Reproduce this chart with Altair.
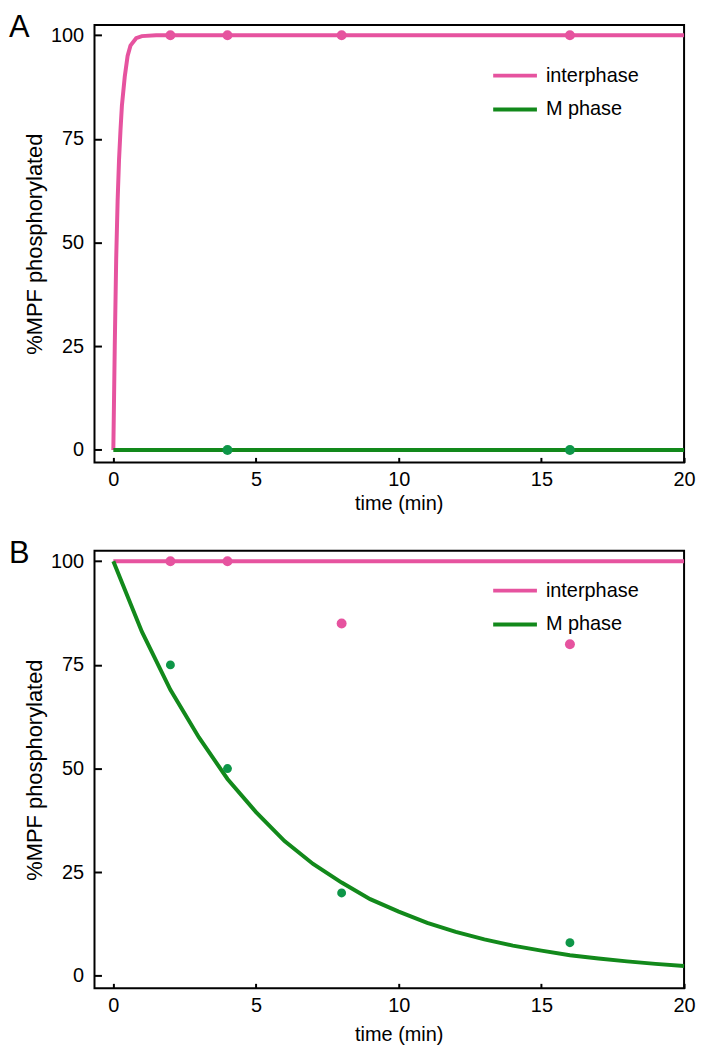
import altair as alt
import pandas as pd

PINK = "#E6539F"
GREEN_LINE = "#12891B"
GREEN_PT = "#0E9648"
FONT = "Liberation Sans"

# ---------------- Panel A data ----------------
a_int_t = [0, 0.05, 0.1, 0.15, 0.2, 0.25, 0.3, 0.4, 0.5, 0.6, 0.8, 1.0, 1.5, 20]
a_int_y = [0, 25, 46, 60, 70, 77, 83, 90, 95, 97.5, 99.3, 99.8, 100, 100]
a_m_t = [0, 20]
a_m_y = [0, 0]
a_pt_int_t = [2, 4, 8, 16]
a_pt_int_y = [100, 100, 100, 100]
a_pt_m_t = [4, 16]
a_pt_m_y = [0, 0]

# ---------------- Panel B data ----------------
b_int_t = [0, 20]
b_int_y = [100, 100]
b_m_t = [0, 1, 2, 3, 4, 5, 6, 7, 8, 9, 10, 11, 12, 13, 14, 15, 16, 17, 18, 19, 20]
b_m_y = [100, 83, 69, 57.5, 47.5, 39.5, 32.5, 27, 22.5, 18.5, 15.5, 12.8, 10.6,
         8.8, 7.3, 6.1, 5.0, 4.2, 3.5, 2.9, 2.4]
b_pt_int_t = [2, 4, 8, 16]
b_pt_int_y = [100, 100, 85, 80]
b_pt_m_t = [2, 4, 8, 16]
b_pt_m_y = [75, 50, 20, 8]

x_ticks = [0, 5, 10, 15, 20]
y_ticks = [0, 25, 50, 75, 100]
phases = ["interphase", "M phase"]


def make_df(it, iy, mt, my):
    return pd.DataFrame({
        "t": list(it) + list(mt),
        "y": list(iy) + list(my),
        "phase": [phases[0]] * len(it) + [phases[1]] * len(mt),
    })


def pts_layer(t, y, color, size, xscale, yscale):
    df = pd.DataFrame({"t": t, "y": y})
    return alt.Chart(df).mark_circle(opacity=1, size=size, color=color).encode(
        x=alt.X("t:Q", scale=xscale),
        y=alt.Y("y:Q", scale=yscale),
    )


def panel(ldf, pint, pm, label, legend_y, row_pad, label_y, green_pt_size,
          xtitle_pad):
    xscale = alt.Scale(domain=[-0.66, 20], nice=False, zero=False)
    yscale = alt.Scale(domain=[-3, 102.5], nice=False, zero=False)
    xaxis = alt.Axis(values=x_ticks, tickSize=5, tickWidth=2, tickColor="black",
                     offset=-5, domain=False, grid=False, labelFlush=False,
                     labelOverlap=False, labelFont=FONT, labelFontSize=20,
                     labelColor="black", labelPadding=7, title="time (min)",
                     titleFont=FONT, titleFontSize=20, titleFontWeight="normal",
                     titleColor="black", titleX=306, titlePadding=xtitle_pad)
    yaxis = alt.Axis(values=y_ticks, tickSize=7, tickWidth=2, tickColor="black",
                     offset=-7, domain=False, grid=False, labelFlush=False,
                     labelOverlap=False, labelFont=FONT, labelFontSize=20,
                     labelColor="black", labelPadding=11,
                     title="%MPF phosphorylated", titleFont=FONT,
                     titleFontSize=22, titleFontWeight="normal",
                     titleColor="black", titlePadding=4)
    line = alt.Chart(ldf).mark_line(strokeWidth=4).encode(
        x=alt.X("t:Q", scale=xscale, axis=xaxis),
        y=alt.Y("y:Q", scale=yscale, axis=yaxis),
        color=alt.Color("phase:N",
                        scale=alt.Scale(domain=phases, range=[PINK, GREEN_LINE]),
                        legend=alt.Legend(title=None, orient="none",
                                          legendX=399, legendY=legend_y,
                                          symbolType="stroke",
                                          symbolSize=1936, symbolStrokeWidth=4,
                                          labelFont=FONT, labelFontSize=20,
                                          labelColor="black", labelOffset=7,
                                          rowPadding=row_pad, padding=0)),
    )
    p1 = pts_layer(pint[0], pint[1], PINK, 100, xscale, yscale)
    p2 = pts_layer(pm[0], pm[1], GREEN_PT, green_pt_size, xscale, yscale)
    txt = alt.Chart(pd.DataFrame({"panel": [label]})).mark_text(
        font=FONT, fontSize=31, align="left", baseline="alphabetic", color="black"
    ).encode(text="panel:N", x=alt.value(-86), y=alt.value(label_y))
    return alt.layer(line, p1, p2, txt).properties(width=593, height=440)


chart_a = panel(make_df(a_int_t, a_int_y, a_m_t, a_m_y),
                (a_pt_int_t, a_pt_int_y), (a_pt_m_t, a_pt_m_y),
                "A", 27, -4, 12, 100, 4)
chart_b = panel(make_df(b_int_t, b_int_y, b_m_t, b_m_y),
                (b_pt_int_t, b_pt_int_y), (b_pt_m_t, b_pt_m_y),
                "B", 16, -5, 12, 80, 9)

chart = alt.vconcat(chart_a, chart_b, spacing=23).resolve_scale(
    color="independent"
).resolve_legend(
    color="independent"
).properties(padding=0).configure(
    background="white"
).configure_view(stroke="black", strokeWidth=2)

chart.save("out.html", embed_options={"renderer": "svg", "actions": False})
